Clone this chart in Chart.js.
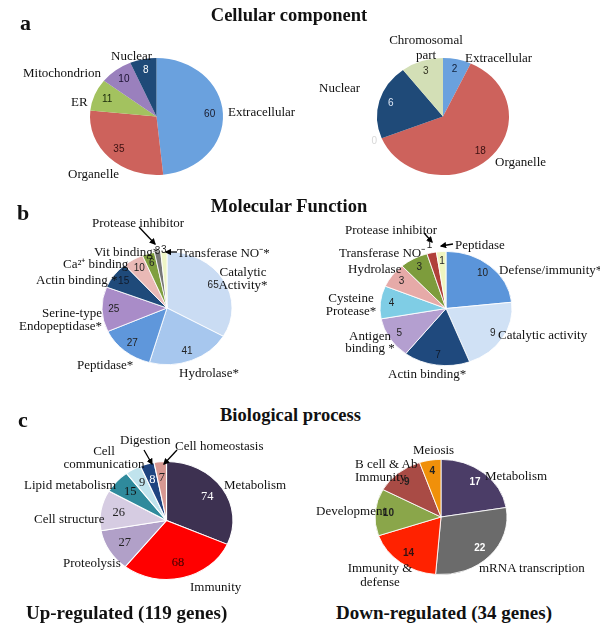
<!DOCTYPE html>
<html><head><meta charset="utf-8">
<script src="https://cdn.jsdelivr.net/npm/chart.js@4.4.1/dist/chart.umd.min.js"></script>
<style>
html,body{margin:0;padding:0;background:#fff;}
#page{position:relative;width:600px;height:637px;overflow:hidden;font-family:"Liberation Serif","Times New Roman",serif;color:#111;}
.t{position:absolute;white-space:nowrap;font-size:13px;line-height:13px;}
canvas{position:absolute;}
svg{position:absolute;left:0;top:0;}
</style></head><body><div id="page"></div>
<script>
// ---------- DATA ----------
const ccUpLabels = ["Extracellular","Organelle","ER","Mitochondrion","Nuclear"];
const ccUpValues = [60,35,11,10,8];
const ccDownLabels = ["Extracellular","Organelle","","Nuclear",["Chromosomal","part"]];
const ccDownValues = [2,18,0,6,3];
const mfUpLabels = [["Catalytic","Activity*"],"Hydrolase*","Peptidase*",["Serine-type","Endopeptidase*"],"Actin binding *","Ca²⁺ binding","Vit binding*","Protease inhibitor","Transferase NO⁻*"];
const mfUpValues = [65,41,27,25,15,10,6,3,3];
const mfDownLabels = ["Defense/immunity*","Catalytic activity","Actin binding*",["Antigen","binding *"],["Cysteine","Protease*"],"Hydrolase","Transferase NO⁻","Protease inhibitor","Peptidase"];
const mfDownValues = [10,9,7,5,4,3,3,1,1];
const bpUpLabels = ["Metabolism","Immunity","Proteolysis","Cell structure","Lipid metabolism",["Cell","communication"],"Digestion","Cell homeostasis"];
const bpUpValues = [74,68,27,26,15,9,8,7];
const bpDownLabels = ["Metabolism","mRNA transcription",["Immunity &","defense"],"Development",["B cell & Ab","Immunity"],"Meiosis"];
const bpDownValues = [17,22,14,10,9,4];

// ---------- STYLE / LAYOUT ----------
const page = document.getElementById('page');

const ellipsePlugin = {
  id:'ellipseValues',
  beforeDatasetsDraw(chart){
    const o = chart.options.plugins.ellipseValues;
    const a = chart.getDatasetMeta(0).data[0];
    const ctx = chart.ctx;
    ctx.save();
    ctx.translate(a.x, a.y);
    ctx.scale(o.rx / a.outerRadius, 1);
    ctx.translate(-a.x, -a.y);
  },
  afterDatasetsDraw(chart){
    const ctx = chart.ctx;
    ctx.restore();
    const o = chart.options.plugins.ellipseValues;
    const meta = chart.getDatasetMeta(0);
    const vals = chart.data.datasets[0].data;
    ctx.save();
    ctx.font = o.font;
    ctx.textAlign = 'center';
    ctx.textBaseline = 'middle';
    meta.data.forEach((a,i)=>{
      const mid = (a.startAngle + a.endAngle)/2;
      const f = (o.outside||[]).includes(i) ? o.outFrac : o.frac;
      const x = a.x + Math.cos(mid)*o.rx*f;
      const y = a.y + Math.sin(mid)*a.outerRadius*f;
      ctx.fillStyle = o.colors[i];
      ctx.fillText(String(vals[i]), x, y);
    });
    ctx.restore();
  }
};

function pie(values, colors, g, vopt, bw){
  const pad = 16;
  const c = document.createElement('canvas');
  c.width = Math.round(2*g.rx + 2*pad);
  c.height = Math.round(2*g.ry + 2*pad);
  c.style.left = (g.cx - g.rx - pad) + 'px';
  c.style.top = (g.cy - g.ry - pad) + 'px';
  page.appendChild(c);
  new Chart(c, {
    type:'pie',
    data:{ labels: values.map((v,i)=>String(i)), datasets:[{ data: values, backgroundColor: colors, borderColor:'#ffffff', borderWidth: bw }]},
    options:{
      responsive:false, animation:false, events:[],
      layout:{ padding: pad },
      plugins:{ legend:{display:false}, tooltip:{enabled:false},
        ellipseValues: Object.assign({rx:g.rx}, vopt) }
    },
    plugins:[ellipsePlugin]
  });
}

function text(html, x, y, opt){
  opt = opt || {};
  const d = document.createElement('div');
  d.className = 't';
  const lh = opt.lh || 13;
  const size = opt.size || 13;
  d.style.fontSize = size + 'px';
  d.style.lineHeight = lh + 'px';
  if (opt.bold) d.style.fontWeight = 'bold';
  d.style.top = (y - lh/2) + 'px';
  d.style.left = x + 'px';
  const a = opt.a || 'l';
  if (a === 'c'){ d.style.transform = 'translateX(-50%)'; d.style.textAlign = 'center'; }
  if (a === 'r'){ d.style.transform = 'translateX(-100%)'; d.style.textAlign = 'right'; }
  d.innerHTML = html;
  page.appendChild(d);
}
function catLabels(labels, pos){
  labels.forEach((lab,i)=>{
    const p = pos[i];
    if (!p || lab === "") return;
    const html = Array.isArray(lab) ? lab.join('<br>') : lab;
    text(html, p[0], p[1], {a:p[2], lh:p[3]||13});
  });
}

const sansVal = '10px "Liberation Sans", Arial, sans-serif';

// a - cellular component
pie(ccUpValues, ['#6aa1de','#cd625c','#a3c25f','#9a80bd','#1f4a78'],
  {cx:156.5, cy:116.5, rx:66.5, ry:58.5},
  {font:sansVal, frac:0.8, colors:['#1a1a2a','#3a1010','#1a2a0a','#1a1030','#ffffff']}, 0);
pie(ccDownValues, ['#6aa1de','#cd625c','#dddddd','#1f4a78','#d3dfb6'],
  {cx:443, cy:116.5, rx:66, ry:58.5},
  {font:sansVal, frac:0.82, outside:[2], outFrac:1.12, colors:['#10203a','#3a1010','#d8d8d8','#dfe8f5','#333322']}, 0);

// b - molecular function
pie(mfUpValues, ['#cadcf3','#a7c7ee','#5f97db','#a98cc8','#1f4a7a','#e9b9b6','#7f9f3f','#777777','#eef5c6'],
  {cx:167, cy:308, rx:65, ry:57},
  {font:sansVal, frac:0.82, outside:[7,8], outFrac:1.02, colors:['#222','#222','#222','#222','#111a2a','#222','#222','#222','#222']}, 0.8);
pie(mfDownValues, ['#5b95da','#d0e1f5','#1f497d','#b49fd0','#7fcde5','#e6aaa8','#7d9c3c','#b0403a','#f0f5c0'],
  {cx:446, cy:308.5, rx:66, ry:57.5},
  {font:sansVal, frac:0.83, outside:[7], outFrac:1.14, colors:['#222','#222','#111a2a','#222','#222','#222','#222','#222','#222']}, 0.8);

// c - biological process
pie(bpUpValues, ['#3d3151','#ff0000','#b1a0c8','#d6cce2','#2f8a9c','#c0e3ed','#1f4480','#d89892'],
  {cx:166.5, cy:520.5, rx:66.5, ry:59.5},
  {font:'12.5px "Liberation Serif", serif', frac:0.73, colors:['#ffffff','#3a0000','#222','#222','#111','#222','#ffffff','#222']}, 1);
pie(bpDownValues, ['#4b3d67','#6b6b6b','#ff2200','#8aa64a','#a94b45','#f0900a'],
  {cx:441, cy:517, rx:66, ry:58},
  {font:'bold 10px "Liberation Sans", Arial, sans-serif', frac:0.8, colors:['#ffffff','#ffffff','#331111','#222','#222','#222']}, 0.8);

// category labels
catLabels(ccUpLabels, [[228,111,'l'],[68,173,'l'],[71,101,'l'],[23,72,'l'],[111,55,'l']]);
catLabels(ccDownLabels, [[465,57,'l'],[495,161,'l'],null,[319,87,'l'],[426,39,'c',15]]);
catLabels(mfUpLabels, [[243,271,'c'],[179,372,'l'],[77,364,'l'],[102,312,'r'],[36,279,'l'],[63,263,'l'],[94,251,'l'],[92,222,'l'],[177,252,'l']]);
catLabels(mfDownLabels, [[499,269,'l'],[498,334,'l'],[388,373,'l'],[370,336,'c',12.5],[351,297,'c'],[348,268,'l'],[339,252,'l'],[345,229,'l'],[455,244,'l']]);
catLabels(bpUpLabels, [[224,484,'l'],[190,586,'l'],[63,562,'l'],[34,518,'l'],[24,484,'l'],[104,450,'c'],[120,439,'l'],[175,445,'l']]);
catLabels(bpDownLabels, [[485,475,'l'],[479,567,'l'],[380,568,'c',14],[316,510,'l'],[355,463,'l'],[413,449,'l']]);

// titles
text('Cellular component', 289, 15, {a:'c', size:18.5, lh:20, bold:true});
text('Molecular Function', 289, 206, {a:'c', size:18.5, lh:20, bold:true});
text('Biological process', 290.5, 415, {a:'c', size:18.5, lh:20, bold:true});
text('a', 20, 23, {size:22, lh:24, bold:true});
text('b', 17, 213, {size:22, lh:24, bold:true});
text('c', 18, 420, {size:22, lh:24, bold:true});
text('Up-regulated (119 genes)', 26, 613, {size:19, lh:22, bold:true});
text('Down-regulated (34 genes)', 336, 613, {size:19, lh:22, bold:true});

// arrows
const arrows = [[139,227,155,244],[177,252,166,252],[424,233,432,242],[453,244,441,246],[144,450,152,464],[177,450,164,464]];
let svg = '<svg width="600" height="637" xmlns="http://www.w3.org/2000/svg"><defs><marker id="ah" viewBox="0 0 10 10" refX="8" refY="5" markerWidth="5" markerHeight="5" orient="auto"><path d="M0,0 L10,5 L0,10 z" fill="#000"/></marker></defs>';
arrows.forEach(a=>{ svg += `<line x1="${a[0]}" y1="${a[1]}" x2="${a[2]}" y2="${a[3]}" stroke="#000" stroke-width="1.3" marker-end="url(#ah)"/>`; });
svg += '</svg>';
const sv = document.createElement('div');
sv.innerHTML = svg;
page.appendChild(sv.firstChild);
</script>
</body></html>
